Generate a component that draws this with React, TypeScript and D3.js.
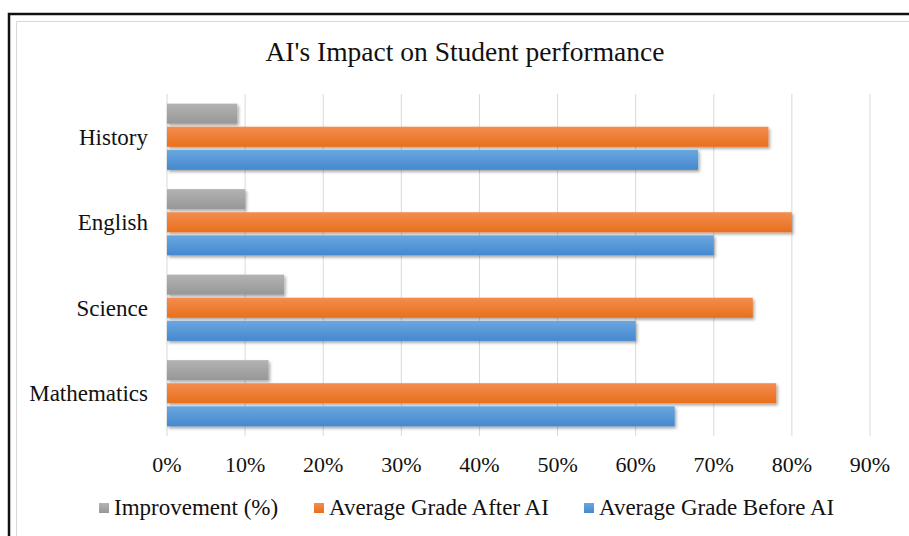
import React, { useEffect, useRef } from "react";
import * as d3 from "d3";

// chart data
const subjects = ["History", "English", "Science", "Mathematics"];
const improvement = [0.09, 0.10, 0.15, 0.13];
const gradeAfter = [0.77, 0.80, 0.75, 0.78];
const gradeBefore = [0.68, 0.70, 0.60, 0.65];
const seriesNames = ["Improvement (%)", "Average Grade After AI", "Average Grade Before AI"];
const tickValues = [0, 0.1, 0.2, 0.3, 0.4, 0.5, 0.6, 0.7, 0.8, 0.9];

const colors = [
  ["#b3b3b3", "#979797"],
  ["#f38d4f", "#e96f1c"],
  ["#6aa7df", "#4588cf"],
];
const legendX = [99, 314, 584];

export default function App() {
  const ref = useRef<SVGSVGElement>(null);

  useEffect(() => {
    const svg = d3.select(ref.current);
    svg.selectAll("*").remove();
    const font = "'Liberation Serif', 'Times New Roman', serif";

    const defs = svg.append("defs");
    colors.forEach((c, i) => {
      const g = defs.append("linearGradient")
        .attr("id", `grad${i}`)
        .attr("x1", 0).attr("y1", 0).attr("x2", 0).attr("y2", 1);
      g.append("stop").attr("offset", "0%").attr("stop-color", c[0]);
      g.append("stop").attr("offset", "100%").attr("stop-color", c[1]);
    });
    const f = defs.append("filter").attr("id", "shadow")
      .attr("x", "-5%").attr("y", "-30%").attr("width", "110%").attr("height", "170%");
    f.append("feDropShadow").attr("dx", 1.5).attr("dy", 2).attr("stdDeviation", 1.5)
      .attr("flood-color", "#000").attr("flood-opacity", 0.35);

    // frame
    svg.append("rect").attr("x", 9).attr("y", 14).attr("width", 920).attr("height", 560)
      .attr("fill", "white").attr("stroke", "#111").attr("stroke-width", 2.5);
    svg.append("rect").attr("x", 16.5).attr("y", 21.5).attr("width", 920).attr("height", 560)
      .attr("fill", "none").attr("stroke", "#d9d9d9").attr("stroke-width", 1);

    svg.append("text")
      .attr("x", 465).attr("y", 61)
      .attr("text-anchor", "middle")
      .attr("font-family", font).attr("font-size", 27.5).attr("fill", "#111")
      .text("AI's Impact on Student performance");

    const x = d3.scaleLinear().domain([0, 0.9]).range([167, 870]);
    const y = d3.scaleBand().domain(subjects).range([94, 436])
      .paddingInner(0.19).paddingOuter(0.095);
    const ySeries = d3.scaleBand().domain(seriesNames).range([0, y.bandwidth()]).padding(0.13).paddingOuter(0.065);

    // gridlines
    svg.append("g").selectAll("line").data(tickValues).enter().append("line")
      .attr("x1", d => x(d)).attr("x2", d => x(d))
      .attr("y1", 94).attr("y2", 436)
      .attr("stroke", "#d9d9d9").attr("stroke-width", 1);

    // tick labels
    svg.append("g").selectAll("text").data(tickValues).enter().append("text")
      .attr("x", d => x(d)).attr("y", 472)
      .attr("text-anchor", "middle")
      .attr("font-family", font).attr("font-size", 22).attr("fill", "#111")
      .text(d => d3.format(".0%")(d));

    // category labels
    svg.append("g").selectAll("text").data(subjects).enter().append("text")
      .attr("x", 148).attr("y", d => (y(d) as number) + y.bandwidth() / 2)
      .attr("dy", "0.35em")
      .attr("text-anchor", "end")
      .attr("font-family", font).attr("font-size", 23).attr("fill", "#111")
      .text(d => d);

    const allSeries = [improvement, gradeAfter, gradeBefore];
    allSeries.forEach((vals, si) => {
      svg.append("g").selectAll("rect").data(vals).enter().append("rect")
        .attr("x", x(0))
        .attr("y", (d, i) => (y(subjects[i]) as number) + (ySeries(seriesNames[si]) as number))
        .attr("width", d => x(d) - x(0))
        .attr("height", ySeries.bandwidth())
        .attr("fill", `url(#grad${si})`)
        .attr("filter", "url(#shadow)");
    });

    // legend
    const leg = svg.append("g").selectAll("g").data(seriesNames).enter().append("g")
      .attr("transform", (d, i) => `translate(${legendX[i]}, 0)`);
    leg.append("rect").attr("x", 0).attr("y", 503).attr("width", 10).attr("height", 10)
      .attr("fill", (d, i) => `url(#grad${i})`);
    leg.append("text").attr("x", 15).attr("y", 515)
      .attr("font-family", font).attr("font-size", 23).attr("fill", "#111")
      .text(d => d);
  }, []);

  return (
    <div style={{ position: "absolute", left: 0, top: 0, width: 909, height: 536, overflow: "hidden" }}>
      <svg ref={ref} width={909} height={536} style={{ display: "block", background: "white" }} />
    </div>
  );
}
